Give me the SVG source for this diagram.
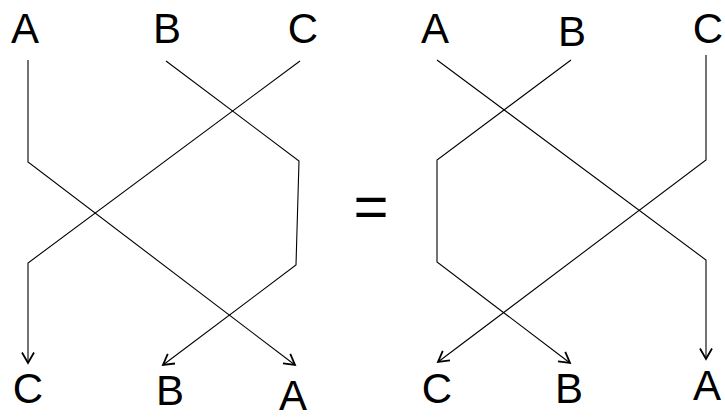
<svg xmlns="http://www.w3.org/2000/svg" width="725" height="417" viewBox="0 0 725 417">
<style>
text{font-family:"Liberation Sans",Arial,sans-serif;font-size:42px;fill:#000;text-anchor:middle}
.w{fill:none;stroke:#000;stroke-width:1.1;marker-end:url(#arr)}
</style>
<defs>
<marker id="arr" markerUnits="userSpaceOnUse" markerWidth="24" markerHeight="24" refX="12" refY="12" orient="auto" overflow="visible">
<path d="M1.5,6 L12,12 L1.5,18" fill="none" stroke="#000" stroke-width="1.8" stroke-linejoin="miter"/>
</marker>
</defs>
<rect width="725" height="417" fill="#fff"/>
<g id="left-top-A"><text x="25" y="43">A</text></g>
<g id="left-top-B"><text x="167" y="43">B</text></g>
<g id="left-top-C"><text x="303" y="43">C</text></g>
<g id="left-bot-C"><text x="28" y="403">C</text></g>
<g id="left-bot-B"><text x="170" y="405">B</text></g>
<g id="left-bot-A"><text x="293" y="410">A</text></g>
<g id="equals"><text x="371" y="227" style="font-size:60px">=</text></g>
<g id="right-top-A"><text x="435" y="43">A</text></g>
<g id="right-top-B"><text x="572" y="46">B</text></g>
<g id="right-top-C"><text x="708" y="43">C</text></g>
<g id="right-bot-C"><text x="437" y="403">C</text></g>
<g id="right-bot-B"><text x="569" y="403">B</text></g>
<g id="right-bot-A"><text x="707" y="400">A</text></g>
<g id="connectors">
<polyline class="w" points="28,60 28,162 295,365"/>
<polyline class="w" points="166,61 299,161 296,265 163,365"/>
<polyline class="w" points="300,61 28,263 28,363"/>
<polyline class="w" points="437,60 706,260 706,359"/>
<polyline class="w" points="571,60 437,160 437,262 570,363"/>
<polyline class="w" points="706,55 706,160 438,362"/>
</g>
</svg>
